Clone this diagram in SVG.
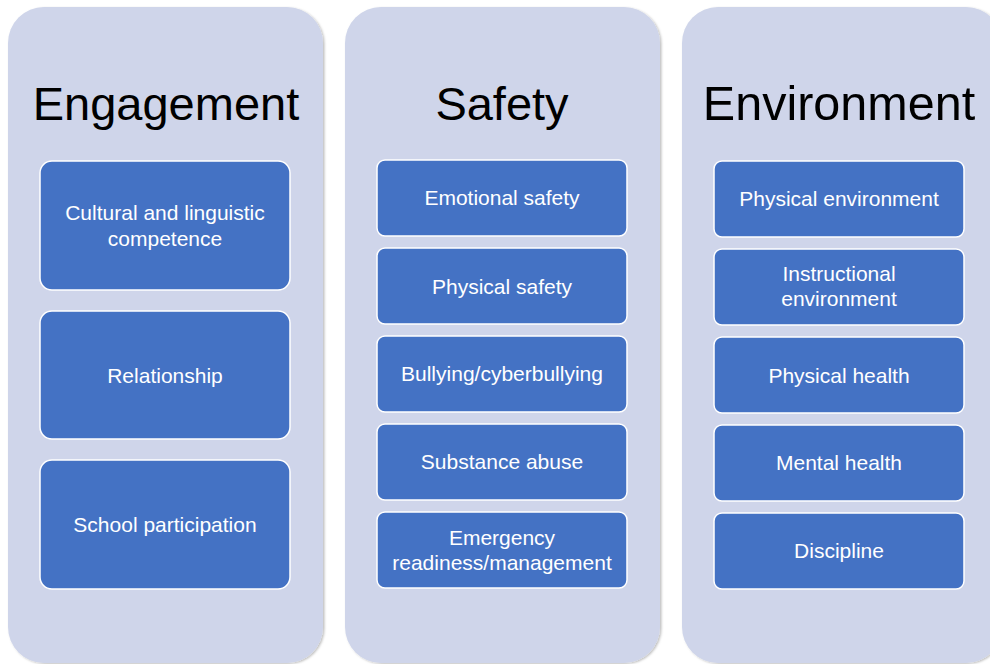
<svg xmlns="http://www.w3.org/2000/svg" width="990" height="664" viewBox="0 0 990 664">
<defs>
<filter id="sh" x="-5%" y="-5%" width="110%" height="110%">
<feDropShadow dx="1.5" dy="1" stdDeviation="1.2" flood-color="#000" flood-opacity="0.25"/>
</filter>
<style>
.panel{fill:#CFD5EA;filter:url(#sh)}
.box{fill:#4472C4;stroke:#FFFFFF;stroke-width:1.5}
.title{font-family:"Liberation Sans",Arial,sans-serif;font-size:47px;fill:#000;text-anchor:middle}
.lbl{font-family:"Liberation Sans",Arial,sans-serif;font-size:21px;fill:#FFFFFF;text-anchor:middle;dominant-baseline:central}
</style>
</defs>
<rect width="990" height="664" fill="#FFFFFF"/>
<g id="engagement">
<rect class="panel" x="8" y="7" width="315" height="656" rx="36"/>
<text class="title" x="166" y="120">Engagement</text>
</g>
<g id="safety">
<rect class="panel" x="345" y="7" width="315" height="656" rx="36"/>
<text class="title" x="502" y="120">Safety</text>
</g>
<g id="environment">
<rect class="panel" x="682" y="7" width="320" height="656" rx="36"/>
<text class="title" x="839" y="120" style="font-size:48.5px">Environment</text>
</g>
<g id="eng-1"><rect class="box" x="40" y="161" width="250" height="129" rx="12"/><text class="lbl" x="165" y="212">Cultural and linguistic</text><text class="lbl" x="165" y="238">competence</text></g>
<g id="eng-2"><rect class="box" x="40" y="311" width="250" height="128" rx="12"/><text class="lbl" x="165" y="375">Relationship</text></g>
<g id="eng-3"><rect class="box" x="40" y="460" width="250" height="129" rx="12"/><text class="lbl" x="165" y="524">School participation</text></g>
<g id="saf-1"><rect class="box" x="377" y="160" width="250" height="76" rx="8"/><text class="lbl" x="502" y="197">Emotional safety</text></g>
<g id="saf-2"><rect class="box" x="377" y="248" width="250" height="76" rx="8"/><text class="lbl" x="502" y="286">Physical safety</text></g>
<g id="saf-3"><rect class="box" x="377" y="336" width="250" height="76" rx="8"/><text class="lbl" x="502" y="373">Bullying/cyberbullying</text></g>
<g id="saf-4"><rect class="box" x="377" y="424" width="250" height="76" rx="8"/><text class="lbl" x="502" y="461">Substance abuse</text></g>
<g id="saf-5"><rect class="box" x="377" y="512" width="250" height="76" rx="8"/><text class="lbl" x="502" y="537">Emergency</text><text class="lbl" x="502" y="562">readiness/management</text></g>
<g id="env-1"><rect class="box" x="714" y="161" width="250" height="76" rx="8"/><text class="lbl" x="839" y="198">Physical environment</text></g>
<g id="env-2"><rect class="box" x="714" y="249" width="250" height="76" rx="8"/><text class="lbl" x="839" y="273">Instructional</text><text class="lbl" x="839" y="298">environment</text></g>
<g id="env-3"><rect class="box" x="714" y="337" width="250" height="76" rx="8"/><text class="lbl" x="839" y="375">Physical health</text></g>
<g id="env-4"><rect class="box" x="714" y="425" width="250" height="76" rx="8"/><text class="lbl" x="839" y="462">Mental health</text></g>
<g id="env-5"><rect class="box" x="714" y="513" width="250" height="76" rx="8"/><text class="lbl" x="839" y="550">Discipline</text></g>
<g id="connectors"></g>
</svg>
